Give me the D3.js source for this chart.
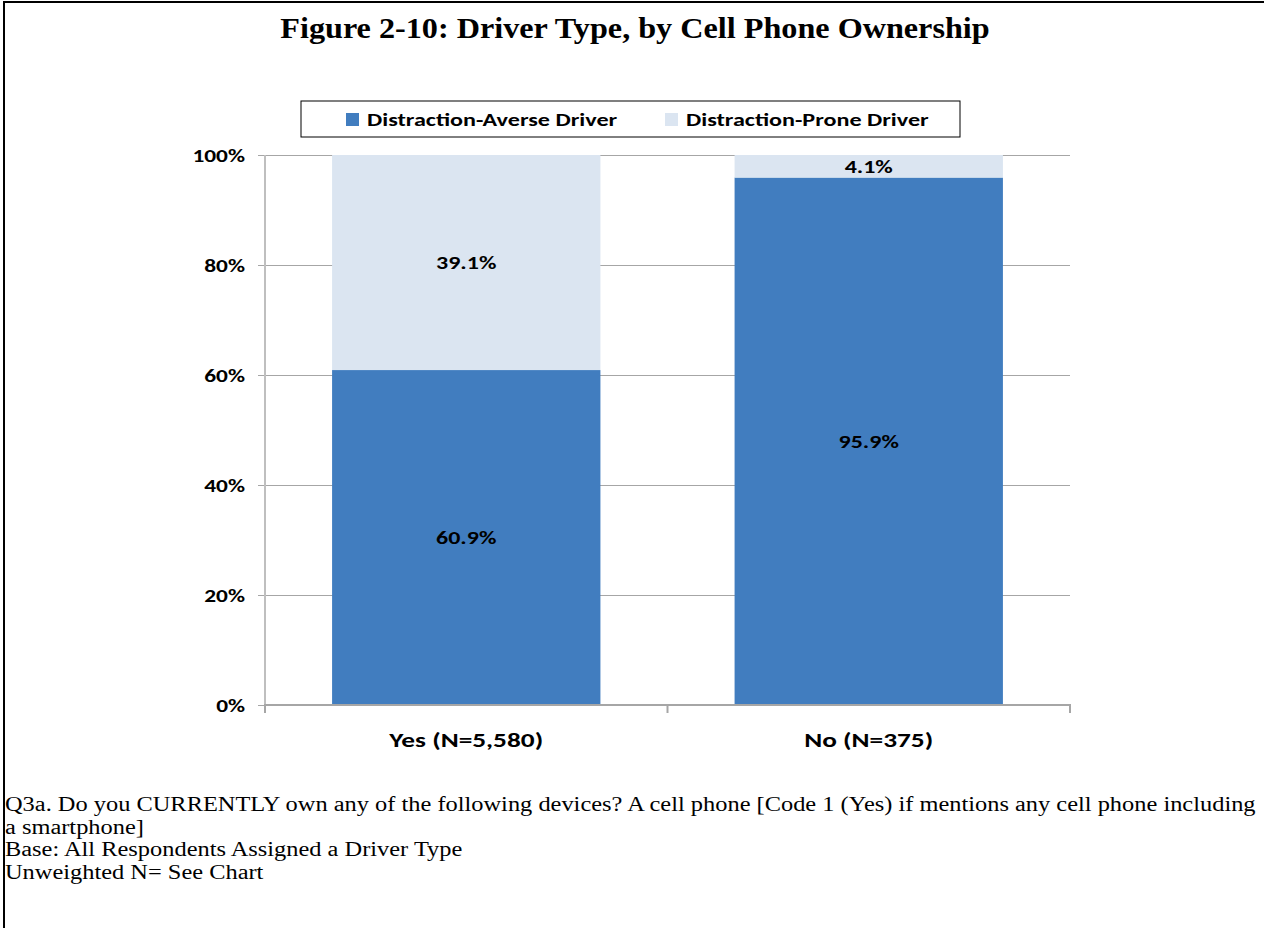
<!DOCTYPE html>
<html>
<head>
<meta charset="utf-8">
<script src="https://cdn.jsdelivr.net/npm/d3@7"></script>
<style>
  body { margin: 0; background: #fff; }
  svg { display: block; }
</style>
</head>
<body>
<div id="chart"></div>
<script>
// chart data
const categories = ["Yes (N=5,580)", "No (N=375)"];
const seriesNames = ["Distraction-Averse Driver", "Distraction-Prone Driver"];
const averse = [60.9, 95.9];
const prone = [39.1, 4.1];
const yTicks = [0, 20, 40, 60, 80, 100];
const colors = ["#417DBF", "#DBE5F1"];
const footLines = [
  "Q3a. Do you CURRENTLY own any of the following devices? A cell phone [Code 1 (Yes) if mentions any cell phone including",
  "a smartphone]",
  "Base: All Respondents Assigned a Driver Type",
  "Unweighted N= See Chart"
];

const W = 1264, H = 928;
const plot = { left: 265, right: 1070, top: 155, bottom: 705 };
const calibri = "Carlito, Lato, 'Open Sans', sans-serif";
const times = "'Liberation Serif', 'Times New Roman', serif";

// the original picture is stretched sideways, so widen the text to match
function stretch(sel, sx) {
  sel.each(function() {
    const len = this.getComputedTextLength();
    d3.select(this)
      .attr("textLength", len * sx)
      .attr("lengthAdjust", "spacingAndGlyphs");
  });
}

const svg = d3.select("#chart").append("svg")
  .attr("width", W)
  .attr("height", H);

// outer frame (only top and left edges visible)
svg.append("path")
  .attr("d", `M4,${H} L4,2 L${W},2`)
  .attr("fill", "none")
  .attr("stroke", "#000")
  .attr("stroke-width", 2);

// title
svg.append("text")
  .attr("x", 635)
  .attr("y", 38)
  .attr("text-anchor", "middle")
  .style("font-family", times)
  .style("font-weight", "bold")
  .style("font-size", "29px")
  .text("Figure 2-10: Driver Type, by Cell Phone Ownership")
  .call(stretch, 1.11);

const x = d3.scaleBand()
  .domain(categories)
  .range([plot.left, plot.right])
  .paddingInner(1 / 3)
  .paddingOuter(1 / 6);

const y = d3.scaleLinear()
  .domain([0, 100])
  .range([plot.bottom, plot.top]);

// gridlines + y axis
const yAxis = svg.append("g")
  .attr("transform", `translate(${plot.left},0)`)
  .call(d3.axisLeft(y).tickValues(yTicks).tickFormat(d => d + "%")
    .tickSize(-(plot.right - plot.left)).tickPadding(20));
yAxis.select(".domain").remove();
yAxis.selectAll(".tick line")
  .attr("x1", -7)
  .attr("stroke", "#a6a6a6")
  .attr("stroke-width", 1);
yAxis.selectAll(".tick text")
  .attr("x", -20)
  .style("font-family", calibri)
  .style("font-weight", "bold")
  .style("font-size", "19px")
  .attr("fill", "#000")
  .call(stretch, 1.23);

// vertical axis line
svg.append("line")
  .attr("x1", plot.left).attr("x2", plot.left)
  .attr("y1", plot.top).attr("y2", plot.bottom + 7)
  .attr("stroke", "#bfbfbf")
  .attr("stroke-width", 2);

// stacked bars
const stackData = categories.map((c, i) => ({ cat: c, averse: averse[i], prone: prone[i] }));
const stack = d3.stack().keys(["averse", "prone"])(stackData);

const layers = svg.append("g").selectAll("g")
  .data(stack)
  .join("g")
  .attr("fill", (d, i) => colors[i]);

layers.selectAll("rect")
  .data(d => d)
  .join("rect")
  .attr("x", d => x(d.data.cat))
  .attr("width", x.bandwidth())
  .attr("y", d => y(d[1]))
  .attr("height", d => y(d[0]) - y(d[1]));

// data labels
layers.selectAll("text")
  .data(d => d)
  .join("text")
  .attr("x", d => x(d.data.cat) + x.bandwidth() / 2)
  .attr("y", d => (y(d[0]) + y(d[1])) / 2)
  .attr("dy", "0.35em")
  .attr("text-anchor", "middle")
  .attr("fill", "#000")
  .style("font-family", calibri)
  .style("font-weight", "bold")
  .style("font-size", "19px")
  .text(d => (d[1] - d[0]).toFixed(1) + "%")
  .call(stretch, 1.26);

// x axis
const xAxis = svg.append("g")
  .attr("transform", `translate(0,${plot.bottom})`)
  .call(d3.axisBottom(x).tickSize(0).tickPadding(27));
xAxis.select(".domain")
  .attr("d", `M${plot.left},8V0H${plot.right}V8`)
  .attr("stroke", "#a6a6a6")
  .attr("stroke-width", 2);
xAxis.selectAll(".tick text")
  .style("font-family", calibri)
  .style("font-weight", "bold")
  .style("font-size", "21px")
  .attr("fill", "#000")
  .call(stretch, 1.3);
// middle tick between the categories
xAxis.append("line")
  .attr("x1", (plot.left + plot.right) / 2).attr("x2", (plot.left + plot.right) / 2)
  .attr("y1", 0).attr("y2", 8)
  .attr("stroke", "#a6a6a6")
  .attr("stroke-width", 2);

// legend
const legend = svg.append("g");
legend.append("rect")
  .attr("x", 301).attr("y", 101)
  .attr("width", 659).attr("height", 36)
  .attr("fill", "#fff")
  .attr("stroke", "#000")
  .attr("stroke-width", 1);
const legendX = [346, 665];
seriesNames.forEach((name, i) => {
  legend.append("rect")
    .attr("x", legendX[i]).attr("y", 113)
    .attr("width", 13).attr("height", 13)
    .attr("fill", colors[i]);
  legend.append("text")
    .attr("x", legendX[i] + 21).attr("y", 126)
    .style("font-family", calibri)
    .style("font-weight", "bold")
    .style("font-size", "19px")
    .text(name)
    .call(stretch, 1.27);
});

// footnote
svg.append("g").selectAll("text")
  .data(footLines)
  .join("text")
  .attr("x", 5)
  .attr("y", (d, i) => 811 + i * 22.6)
  .style("font-family", times)
  .style("font-size", "20px")
  .text(d => d)
  .call(stretch, 1.22);
</script>
</body>
</html>
